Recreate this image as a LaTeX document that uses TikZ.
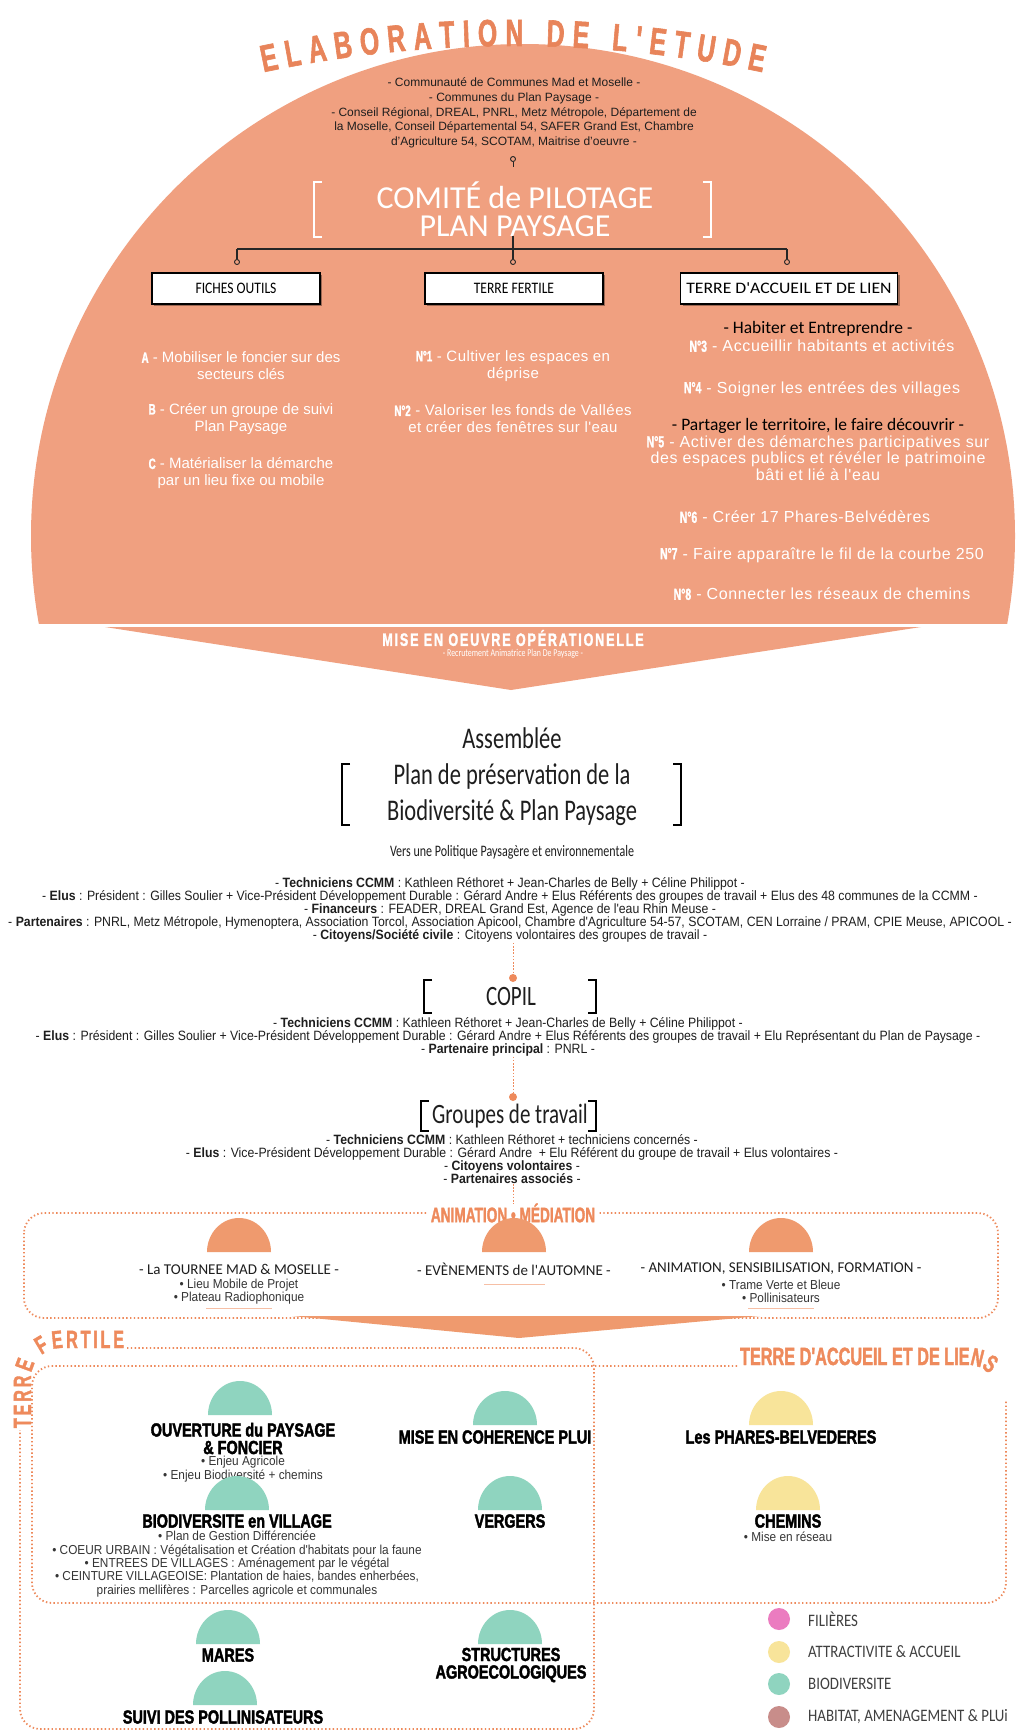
\documentclass[tikz,border=0pt]{standalone}
\usepackage{fontspec}
\usepackage{graphicx}
\setmainfont{Liberation Sans}
\newfontfamily\imp{Liberation Sans}[FakeStretch=0.65,FakeBold=1.5]
\newfontfamily\impt{Liberation Sans}[FakeStretch=0.76,FakeBold=2]
\newfontfamily\impw{Liberation Sans}[FakeStretch=0.7,FakeBold=1.5,LetterSpace=10]
\newfontfamily\myr{Carlito}
\newfontfamily\myrc{Carlito}[FakeStretch=0.75]
\newfontfamily\myrb{Carlito}[FakeStretch=0.85]
\newfontfamily\nar{Liberation Sans}[FakeStretch=0.91]
\newfontfamily\colB{Liberation Sans}[LetterSpace=3]
\newfontfamily\colC{Liberation Sans}[LetterSpace=4]
\usetikzlibrary{decorations.text,shadows}
\definecolor{salmon}{HTML}{F0A080}
\definecolor{orng}{HTML}{EE8A5C}
\definecolor{titleor}{HTML}{E8845A}
\definecolor{domeor}{HTML}{EF9A6E}
\definecolor{tealc}{HTML}{8FD4BF}
\definecolor{yelc}{HTML}{F8E49A}
\definecolor{pinkc}{HTML}{EB7CC0}
\definecolor{brownc}{HTML}{C88D8A}
\definecolor{txt}{HTML}{1E1E1E}
\newcommand{\dome}[3]{\fill[#1] ({#2-32},{-(#3)}) arc[start angle=180,end angle=0,x radius=32,y radius=34] -- cycle;}
\newcommand{\pre}[1]{{\imp\bfseries #1}}
\begin{document}
\begin{tikzpicture}[x=1pt,y=1pt,
  dotl/.style={draw=orng,line width=1.8pt,dash pattern=on 1.4pt off 2.4pt},
  dotc/.style={draw=orng,line width=1pt,dash pattern=on 1.6pt off 1.6pt},
  conn/.style={draw=black!85,line width=1.3pt},
  brk/.style={line width=2.2pt},
  orgtext/.style={font=\fontsize{12}{14.6}\selectfont,align=center,inner sep=0pt,text=txt},
  coltext/.style={font=\fontsize{15}{17}\selectfont,align=center,inner sep=0pt,text=white},
  coltextB/.style={font=\colB\fontsize{15}{17}\selectfont,align=center,inner sep=0pt,text=white},
  coltextC/.style={font=\colC\fontsize{16}{16.5}\selectfont,align=center,inner sep=0pt,text=white},
  subhead/.style={font=\myr\fontsize{17.5}{17.5}\selectfont,inner sep=0pt,text=black},
  boxn/.style={draw=black,line width=1.6pt,fill=white,minimum height=31pt,inner sep=0pt,font=\myrb\fontsize{16}{16}\selectfont,drop shadow={shadow xshift=2pt,shadow yshift=-2pt,fill=black,opacity=0.35}},
  pinn/.style={circle,draw=black!85,line width=0.9pt,fill=salmon,inner sep=0pt,minimum size=5pt},
  bign/.style={font=\myrc\fontsize{30}{36}\selectfont,align=center,inner sep=0pt,text=txt},
  listn/.style={font=\nar\fontsize{13.5}{13.1}\selectfont,align=center,inner sep=0pt,text=txt},
  dotn/.style={circle,fill=orng,inner sep=0pt,minimum size=8pt},
  alab/.style={font=\myr\fontsize{15}{15}\selectfont,inner sep=0pt,text=txt},
  smalln/.style={font=\nar\fontsize{13}{13.4}\selectfont,align=center,inner sep=0pt,text=txt!90},
  ititle/.style={font=\impt\bfseries\fontsize{19}{17.5}\selectfont,align=center,inner sep=0pt,text=black},
  comn/.style={font=\myr\fontsize{32}{32}\selectfont,text=white,inner sep=0pt},
  legn/.style={font=\myrb\fontsize{17.5}{17.5}\selectfont,anchor=west,inner sep=0pt,text=txt!85},
  legc/.style={circle,inner sep=0pt,minimum size=22pt}
]
\useasboundingbox (0,0) rectangle (1017,-1730);
\fill[white] (0,0) rectangle (1017,-1730);

% ===== big circle =====
\begin{scope}
\clip (0,-623) rectangle (1017,0);
\fill[salmon] (523,-536) circle[radius=492];
\end{scope}
\fill[salmon] (105,-627) -- (921,-627) -- (511,-690) -- cycle;

\path[decorate,decoration={text along path,text align={fit to path},
  text={|\imp\bfseries\fontsize{38}{38}\selectfont\color{titleor}|ELABORATION DE L'ETUDE}}]
  (263.5,-72.2) arc[start angle=102,end angle=78,radius=1200];

\node[orgtext] (org) at (514,-113) {- Communauté de Communes Mad et Moselle -\\- Communes du Plan Paysage -\\- Conseil Régional, DREAL, PNRL, Metz Métropole, Département de\\la Moselle, Conseil Départemental 54, SAFER Grand Est, Chambre\\d'Agriculture 54, SCOTAM, Maitrise d'oeuvre -};
\node[pinn] (pin) at (513,-159) {};
\draw[black!85,line width=0.9pt] (pin.south) -- ++(0,-5);

\node[comn,anchor=base] (comite) at (515,-208) {COMITÉ de PILOTAGE};
\node[comn,anchor=base] (plan) at (515,-236) {PLAN PAYSAGE};
\draw[white,brk] (322,-182) -- (314,-182) -- (314,-237) -- (322,-237);
\draw[white,brk] (703,-182) -- (711,-182) -- (711,-237) -- (703,-237);

\node[boxn,minimum width=168pt] (b1) at (236,-288.5) {FICHES OUTILS};
\node[boxn,minimum width=178pt] (b2) at (514,-288.5) {TERRE FERTILE};
\node[boxn,minimum width=217pt] (b3) at (789,-288.5) {\scalebox{1.3}[1]{TERRE D'ACCUEIL ET DE LIEN}};
\node[pinn] (p1) at (237,-262) {};
\node[pinn] (p2) at (513,-262) {};
\node[pinn] (p3) at (787,-262) {};
\coordinate (j1) at (237,-249);
\coordinate (j2) at (513,-249);
\coordinate (j3) at (787,-249);
\draw[conn] (plan.south -| j2) -- (j2);
\draw[conn] (j1) -- (j3);
\draw[conn] (j1) -- (p1.north);
\draw[conn] (j2) -- (p2.north);
\draw[conn] (j3) -- (p3.north);

\node[coltext] (ta) at (241,-366) {\pre{A} - Mobiliser le foncier sur des\\secteurs clés};
\node[coltext] (tb) at (241,-419) {\pre{B} - Créer un groupe de suivi\\Plan Paysage};
\node[coltext] (tc) at (241,-473.5) {\pre{C} - Matérialiser la démarche\\par un lieu fixe ou mobile};
\node[coltextB] (t1) at (513,-366) {\pre{N°1} - Cultiver les espaces en\\déprise};
\node[coltextB] (t2) at (513,-419) {\pre{N°2} - Valoriser les fonds de Vallées\\et créer des fenêtres sur l'eau};
\node[subhead] (hab) at (818,-329) {- Habiter et Entreprendre -};
\node[coltextC] (t3) at (822,-346) {\pre{N°3} - Accueillir habitants et activités};
\node[coltextC] (t4) at (822,-389) {\pre{N°4} - Soigner les entrées des villages};
\node[subhead] (par) at (818,-426) {- Partager le territoire, le faire découvrir -};
\node[coltextC] (t5) at (818,-458) {\pre{N°5} - Activer des démarches participatives sur\\des espaces publics et révéler le patrimoine\\bâti et lié à l'eau};
\node[coltextC] (t6) at (805,-517) {\pre{N°6} - Créer 17 Phares-Belvédères};
\node[coltextC] (t7) at (822,-555) {\pre{N°7} - Faire apparaître le fil de la courbe 250};
\node[coltextC] (t8) at (822,-594) {\pre{N°8} - Connecter les réseaux de chemins};

\node[font=\impw\bfseries\fontsize{18}{18}\selectfont,text=white,inner sep=0pt] (mise) at (513,-638) {MISE EN OEUVRE OPÉRATIONELLE};
\node[font=\myrc\fontsize{10.5}{10.5}\selectfont,text=white,inner sep=0pt] (recru) at (513,-654) {- Recrutement Animatrice Plan De Paysage -};

% ===== Assemblée =====
\node[bign] (ass) at (512,-777) {Assemblée\\Plan de préservation de la\\Biodiversité \& Plan Paysage};
\draw[black,brk] (350,-764) -- (342,-764) -- (342,-825) -- (350,-825);
\draw[black,brk] (673,-764) -- (681,-764) -- (681,-825) -- (673,-825);
\node[font=\myrc\fontsize{16}{16}\selectfont,inner sep=0pt,text=txt] (vers) at (512,-852) {Vers une Politique Paysagère et environnementale};
\node[listn] (l1) at (510,-910) {- \textbf{Techniciens CCMM} : Kathleen Réthoret + Jean-Charles de Belly + Céline Philippot -\\
- \textbf{Elus} : Président : Gilles Soulier + Vice-Président Développement Durable : Gérard Andre + Elus Référents des groupes de travail + Elus des 48 communes de la CCMM -\\
- \textbf{Financeurs} : FEADER, DREAL Grand Est, Agence de l'eau Rhin Meuse -\\
- \textbf{Partenaires} : PNRL, Metz Métropole, Hymenoptera, Association Torcol, Association Apicool, Chambre d'Agriculture 54-57, SCOTAM, CEN Lorraine / PRAM, CPIE Meuse, APICOOL -\\
- \textbf{Citoyens/Société civile} : Citoyens volontaires des groupes de travail -};
\node[dotn] (d1) at (513,-978) {};
\draw[dotc] (l1.south -| d1) -- (d1);

% ===== COPIL =====
\node[font=\myrc\fontsize{28}{28}\selectfont,inner sep=0pt,text=txt] (copil) at (511,-996) {COPIL};
\draw[black,brk] (432,-980) -- (424,-980) -- (424,-1013) -- (432,-1013);
\draw[black,brk] (588,-980) -- (596,-980) -- (596,-1013) -- (588,-1013);
\node[listn] (l2) at (508,-1037) {- \textbf{Techniciens CCMM} : Kathleen Réthoret + Jean-Charles de Belly + Céline Philippot -\\
- \textbf{Elus} : Président : Gilles Soulier + Vice-Président Développement Durable : Gérard Andre + Elus Référents des groupes de travail + Elu Représentant du Plan de Paysage -\\
- \textbf{Partenaire principal} : PNRL -};
\node[dotn] (d2) at (513,-1097) {};
\draw[dotc] (l2.south -| d2) -- (d2);

% ===== Groupes de travail =====
\node[font=\myrc\fontsize{28}{28}\selectfont,inner sep=0pt,text=txt] (grp) at (510,-1116) {Groupes de travail};
\draw[black,brk] (429,-1101) -- (421,-1101) -- (421,-1131) -- (429,-1131);
\draw[black,brk] (588,-1101) -- (596,-1101) -- (596,-1131) -- (588,-1131);
\node[listn] (l3) at (512,-1159) {- \textbf{Techniciens CCMM} : Kathleen Réthoret + techniciens concernés -\\
- \textbf{Elus} : Vice-Président Développement Durable : Gérard Andre~ + Elu Référent du groupe de travail + Elus volontaires -\\
- \textbf{Citoyens volontaires} -\\
- \textbf{Partenaires associés} -};

% ===== Animation =====
\draw[dotl,rounded corners=20pt] (24,-1213) rectangle (998,-1318);
\fill[domeor] (292,-1316) -- (760,-1316) -- (519,-1338) -- cycle;
\node[font=\imp\bfseries\fontsize{21}{21}\selectfont,text=orng,fill=white,inner xsep=3pt,inner ysep=0pt] (anim) at (513,-1213) {ANIMATION • MÉDIATION};
\draw[dotc] (l3.south -| anim) -- (anim.north);
\dome{domeor}{239}{1252}
\dome{domeor}{514}{1252}
\dome{domeor}{781}{1252}
\node[alab] (a1) at (239,-1269) {- La TOURNEE MAD \& MOSELLE -};
\node[smalln] (a1b) at (239,-1291.5) {• Lieu Mobile de Projet\\• Plateau Radiophonique};
\node[alab] (a2) at (514,-1269) {- EVÈNEMENTS de l'AUTOMNE -};
\node[alab] (a3) at (781,-1269) {- ANIMATION, SENSIBILISATION, FORMATION -};
\node[smalln] (a3b) at (781,-1291.5) {• Trame Verte et Bleue\\• Pollinisateurs};
\draw[orng!55,line width=0.8pt] (206,-1308) -- (272,-1308);
\draw[orng!55,line width=0.8pt] (484,-1284) -- (545,-1284);
\draw[orng!55,line width=0.8pt] (748,-1308) -- (814,-1308);

% ===== Terre fertile / Terre d'accueil =====
\draw[dotl] (127,-1348) -- (574,-1348) arc[start angle=90,end angle=0,radius=20] -- (594,-1709) arc[start angle=0,end angle=-90,radius=20] -- (40,-1729) arc[start angle=270,end angle=180,radius=20] -- (20,-1430);
\path[decorate,decoration={text along path,text align={fit to path},
  text={|\imp\bfseries\fontsize{25}{25}\selectfont\color{orng}|TERRE FERTILE}}]
  (31,-1428) -- (31,-1378) arc[start angle=180,end angle=90,radius=30] -- (124,-1348);
\draw[dotl] (737,-1366) -- (52,-1366) arc[start angle=90,end angle=180,radius=20] -- (32,-1583) arc[start angle=180,end angle=270,radius=20] -- (986,-1603) arc[start angle=270,end angle=360,radius=20] -- (1006,-1400);
\path[decorate,decoration={text along path,text align={fit to path},
  text={|\imp\bfseries\fontsize{25}{25}\selectfont\color{orng}|TERRE D'ACCUEIL ET DE LIENS}}]
  (740,-1365) -- (968,-1365) arc[start angle=90,end angle=50,radius=30];

\dome{tealc}{240}{1415}
\node[ititle] (ouv) at (243,-1438.5) {OUVERTURE du PAYSAGE\\\& FONCIER};
\node[smalln] (ouvb) at (243,-1469) {• Enjeu Agricole\\• Enjeu Biodiversité + chemins};
\dome{tealc}{505}{1425}
\node[ititle] (plui) at (495,-1437) {MISE EN COHERENCE PLUI};
\dome{yelc}{781}{1425}
\node[ititle] (phar) at (781,-1437) {Les PHARES-BELVEDERES};
\dome{tealc}{237}{1510}
\node[ititle] (bio) at (237,-1521) {BIODIVERSITE en VILLAGE};
\node[smalln] (biob) at (237,-1564) {• Plan de Gestion Différenciée\\• COEUR URBAIN : Végétalisation et Création d'habitats pour la faune\\• ENTREES DE VILLAGES : Aménagement par le végétal\\• CEINTURE VILLAGEOISE: Plantation de haies, bandes enherbées,\\prairies mellifères : Parcelles agricole et communales};
\dome{tealc}{510}{1510}
\node[ititle] (verg) at (510,-1521) {VERGERS};
\dome{yelc}{788}{1510}
\node[ititle] (chem) at (788,-1521) {CHEMINS};
\node[smalln] (chemb) at (788,-1537) {• Mise en réseau};
\dome{tealc}{228}{1644}
\node[ititle] (mares) at (228,-1655) {MARES};
\dome{tealc}{510}{1644}
\node[ititle] (struc) at (511,-1665) {STRUCTURES\\AGROECOLOGIQUES};
\dome{tealc}{225}{1705}
\node[ititle] (suivi) at (223,-1717) {SUIVI DES POLLINISATEURS};

% ===== legend =====
\node[legc,fill=pinkc] (g1) at (779,-1619) {};
\node[legc,fill=yelc] (g2) at (779,-1652) {};
\node[legc,fill=tealc] (g3) at (779,-1684) {};
\node[legc,fill=brownc] (g4) at (779,-1717) {};
\node[legn] (g1t) at (808,-1619) {FILIÈRES};
\node[legn] (g2t) at (808,-1652) {ATTRACTIVITE \& ACCUEIL};
\node[legn] (g3t) at (808,-1684) {BIODIVERSITE};
\node[legn] (g4t) at (808,-1717) {HABITAT, AMENAGEMENT \& PLUi};
\end{tikzpicture}
\end{document}
